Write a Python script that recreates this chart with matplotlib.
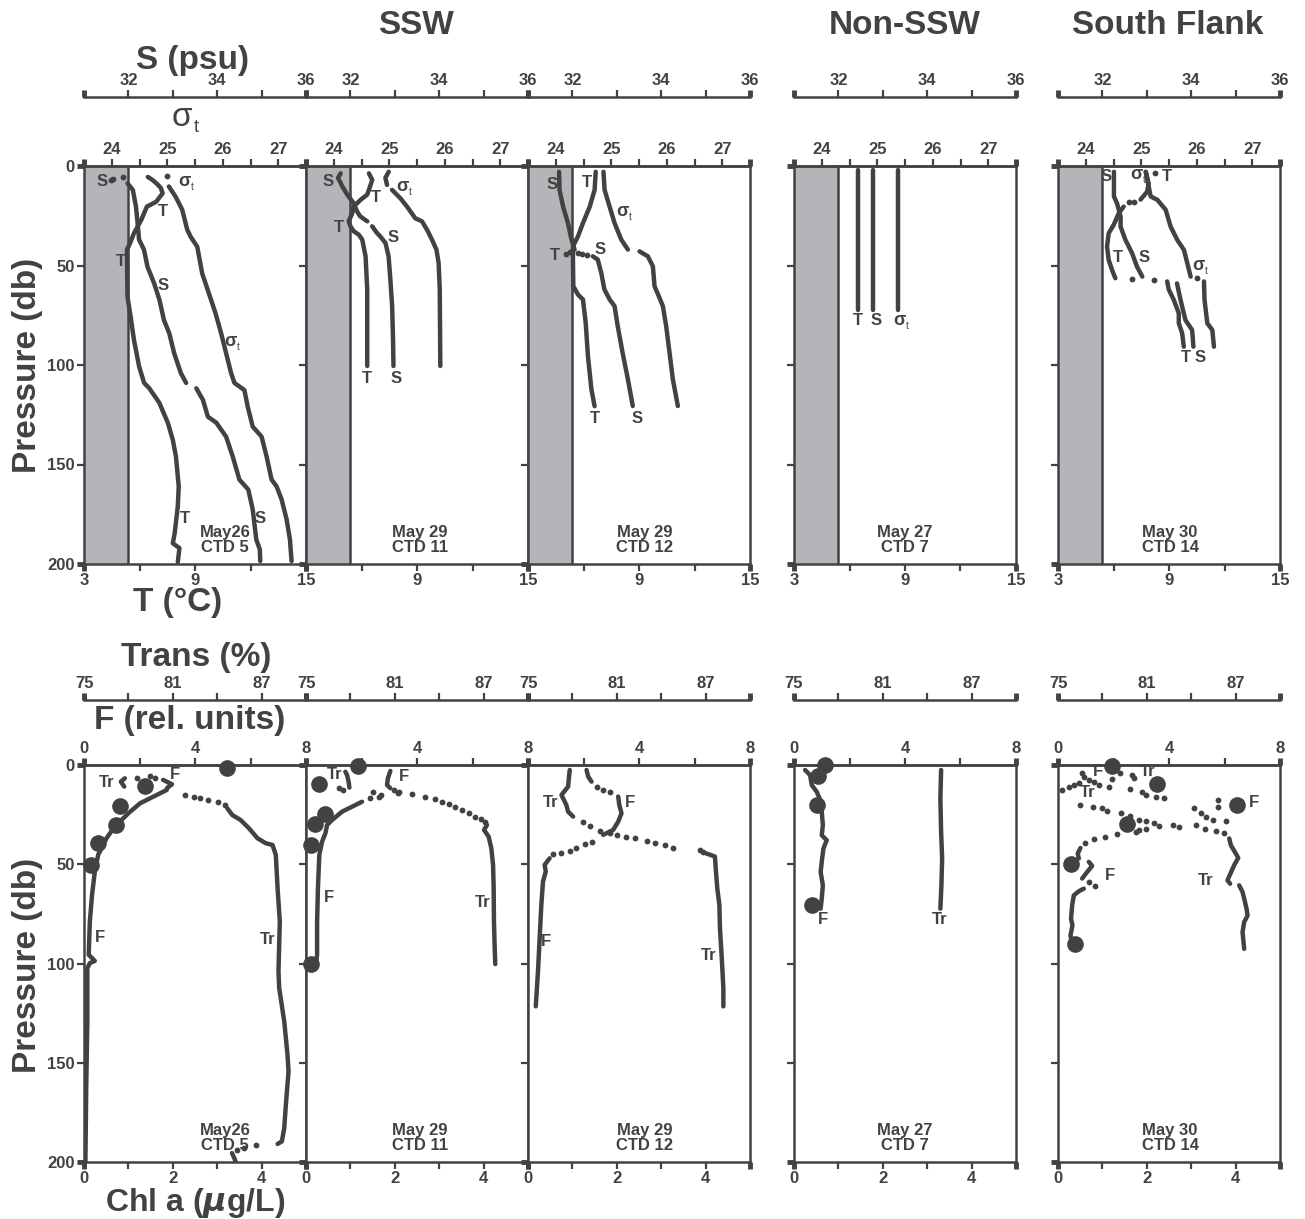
"""
CTD profiles: T / S / sigma-t (top row) and F / Trans / Chl a (bottom row)
for SSW, Non-SSW and South Flank stations.
"""

import numpy as np
import matplotlib.pyplot as plt
from matplotlib import transforms

plt.rcParams['font.family'] = ['Liberation Sans', 'DejaVu Sans']
plt.rcParams['font.weight'] = 'bold'

INK = '#424242'
GRAY = '#b4b5b8'

# ---------------------------------------------------------------- data
CASTS = ['May26\nCTD 5', 'May 29\nCTD 11', 'May 29\nCTD 12', 'May 27\nCTD 7', 'May 30\nCTD 14']
GROUPS = ['SSW', 'Non-SSW', 'South Flank']
SHADE_S = 32.0  # salinity below which the column is shaded

# --- CTD 5 (May 26)
ctd5_T_p = [5.5, 7, 9, 11, 13.7, 18, 20.4, 27, 33.8, 39.7, 42, 65.7, 75.7, 87.4, 100.8, 109, 111.7, 119, 129,
            137.6, 146, 161, 171, 184.6, 189.6, 192, 199]
ctd5_T = [6.45, 6.7, 6.95, 7.15, 7.25, 6.9, 6.4, 6.1, 5.7, 5.45, 5.32, 5.35, 5.52, 5.7, 5.98, 6.25, 6.53, 7.07,
          7.53, 7.8, 7.97, 8.12, 8.07, 7.9, 7.8, 8.16, 8.07]
ctd5_S_p = [8.7, 12, 20.4, 27, 37, 42, 50.6, 59, 67.3, 77.4, 84, 94, 104, 109, None, 111.7, 117.6, 126, 129, 136,
            146, 157.6, 162.6, 172.6, 187.7, 192.7, 198.5]
ctd5_S = [31.98, 32.1, 32.17, 32.2, 32.24, 32.35, 32.43, 32.58, 32.7, 32.8, 32.92, 33.03, 33.18, 33.3, None, 33.53,
          33.68, 33.79, 33.98, 34.2, 34.35, 34.5, 34.7, 34.8, 34.88, 34.96, 34.97]
ctd5_S_dot_p = [7.0, 6.5, 5.4]
ctd5_S_dot = [31.6, 31.66, 31.87]
ctd5_sig_p = [10.3, 15.4, 22, 32, 35.5, 40.5, 54, 64, 74, 84, 94, 104, 109, 112.6, 121, 131, 136, 146, 157.6,
              161, 167.5, 177.5, 187.6, 198.5]
ctd5_sig = [25.03, 25.15, 25.27, 25.36, 25.42, 25.54, 25.63, 25.75, 25.87, 25.97, 26.06, 26.15, 26.21, 26.39,
            26.45, 26.54, 26.7, 26.79, 26.88, 26.97, 27.06, 27.15, 27.21, 27.24]
ctd5_sig_dot_p = [4.8]
ctd5_sig_dot = [25.0]

# --- CTD 11 (May 29)
ctd11_T_p = [3.7, 7, 9.5, 14.4, 17, 20.4, 23.7, 27.8, 30.3, 32.8, 34.5, 37, 45.4, 62, 100.5]
ctd11_T = [6.4, 6.58, 6.49, 6.31, 5.95, 5.58, 5.5, 5.31, 5.4, 5.58, 5.85, 6.04, 6.22, 6.31, 6.31]
ctd11_S_p = [3.7, 6, 8.5, 10, 14.4, 18.6, 22.8, 25.3, 27.8, None, 30.3, 33.7, 35.3, 38.7, 45.4, 57, 70.4, 87.1, 100.5]
ctd11_S = [31.78, 31.72, 31.78, 31.81, 31.93, 32.07, 32.15, 32.22, 32.38, None, 32.49, 32.6, 32.67, 32.79, 32.86,
           32.9, 32.94, 32.96, 32.97]
ctd11_sig_p = [2.9, 6, 9.5, None, 12, 16.2, 20.4, 26.3, 27.8, 32, 37, 42, 48.8, 62, 100.5]
ctd11_sig = [24.99, 24.93, 24.96, None, 25.05, 25.2, 25.32, 25.47, 25.59, 25.68, 25.77, 25.85, 25.89, 25.91, 25.92]

# --- CTD 12 (May 29)
ctd12_T_p = [2.9, 12, 20.4, 28.7, 35.4, 40.4, 47, 60.4, 64.6, 67.1, 78.9, 95.6, 112.4, 120.7]
ctd12_T = [6.66, 6.6, 6.34, 5.97, 5.7, 5.43, 5.43, 5.45, 5.7, 5.97, 6.12, 6.24, 6.43, 6.6]
ctd12_T_dot_p = [43, 44]
ctd12_T_dot = [5.25, 5.05]
ctd12_S_p = [2.9, 12, 20.4, 28.7, 37, 42, None, 45.4, 47, 53.7, 62, 67.1, 70.4, 80.4, 93.8, 107.2, 120.6]
ctd12_S = [31.7, 31.71, 31.79, 31.9, 31.98, 32.05, None, 32.46, 32.57, 32.65, 32.72, 32.84, 32.95, 33.02, 33.13,
           33.25, 33.36]
ctd12_S_dot_p = [43.7, 44.3, 44.9]
ctd12_S_dot = [32.12, 32.22, 32.33]
ctd12_sig_p = [2.9, 12, 20.4, 28.7, 37, 42, None, 42.9, 45.4, 50.4, 60.4, 66.3, 70.4, 80.5, 93.8, 107.2, 120.6]
ctd12_sig = [24.86, 24.88, 24.97, 25.06, 25.18, 25.3, None, 25.51, 25.66, 25.75, 25.78, 25.87, 25.93, 25.99, 26.05,
             26.11, 26.2]

# --- CTD 7 (May 27)
ctd7_p = [2, 20, 40, 60, 72.5]
ctd7_T = [6.47, 6.47, 6.47, 6.47, 6.47]
ctd7_S = [32.79, 32.79, 32.79, 32.79, 32.79]
ctd7_sig = [25.37, 25.37, 25.37, 25.37, 25.37]

# --- CTD 14 (May 30)
ctd14_T_p = [3.0, 8.8, 12.9, 16.9, None, 20.4, 23.8, 29.6, 33.8, 40.5, 47.2, 52.2, 56.4, None, 58, 62.1, 67.3,
             74, 79, 84, 90.8]
ctd14_T = [7.75, 7.9, 7.82, 7.46, None, 6.55, 6.28, 6.01, 5.74, 5.65, 5.74, 5.92, 6.1, None, 8.9, 8.99, 9.26,
           9.53, 9.53, 9.71, 9.8]
ctd14_T_dot_p = [3.5, 17.9, 17.9, 56.7]
ctd14_T_dot = [8.27, 7.09, 6.82, 7.0]
ctd14_S_p = [2.9, 15.3, 18.8, 25.5, 30.5, 37.2, 43.9, 50.6, 55.6, None, 59, 67.3, 77.4, 82.4, 90.8]
ctd14_S = [32.26, 32.26, 32.33, 32.41, 32.41, 32.52, 32.67, 32.78, 32.9, None, 33.68, 33.76, 33.87, 34.02, 34.05]
ctd14_S_dot_p = [57.3]
ctd14_S_dot = [33.16]
ctd14_sig_p = [2.9, 15.3, 17, 22, 30.5, 37.2, 42.2, 48.9, 55.6, None, 58, 67.3, 79, 82.4, 90.8]
ctd14_sig = [25.08, 25.17, 25.29, 25.44, 25.53, 25.65, 25.77, 25.83, 25.89, None, 26.13, 26.14, 26.19, 26.28, 26.31]
ctd14_sig_dot_p = [56.5]
ctd14_sig_dot = [26.0]

# --- bottom row: Chl a bottles, fluorescence F and transmission Tr
ctd5_chl_p = [1.3, 10.4, 20.5, 30.2, 39.4, 50.3]
ctd5_chl = [3.22, 1.37, 0.82, 0.71, 0.32, 0.15]
ctd5_F_p = [7.5, 9.7, 11.5, 12.6, 15.1, 19.3, 24.3, 31.0, 36.9, 45.3, 53.7, 65.4, 78.9, 95.6, 98.7, 99.8, 102.3,
            129.2, 162.8, 200]
ctd5_F = [2.85, 3.17, 3.0, 2.98, 2.62, 2.02, 1.6, 1.11, 0.81, 0.51, 0.39, 0.29, 0.21, 0.17, 0.39, 0.21, 0.12,
          0.12, 0.08, 0.05]
ctd5_F_dot_p = [6.4, 5.4, 6.7]
ctd5_F_dot = [1.9, 2.38, 2.56]
ctd5_Tr_p = [6.7, 8.4, 10.9, None, 21.8, 25.2, 27.7, 31.9, 36.9, 39.4, 40.3, 45.3, 62.1, 78.9, 104, 112.4, 129.2,
             146, 154.4, 171.1, 182.9, 189.6, 190.9, None, 195.5, 198.8, 200]
ctd5_Tr = [77.76, 77.49, 77.72, None, 84.68, 85.02, 85.58, 86.15, 86.72, 87.28, 87.74, 87.96, 88.08, 88.23, 88.14,
           88.19, 88.53, 88.75, 88.82, 88.64, 88.53, 88.37, 88.08, None, 85.0, 85.2, 85.24]
ctd5_Tr_dot_p = [15.1, 15.9, 16.8, 17.6, 18.8, 20.1, 191.6, 193, 193.8]
ctd5_Tr_dot = [81.84, 82.4, 82.86, 83.38, 84.06, 84.56, 86.6, 85.81, 85.36]

ctd11_chl_p = [0.3, 9.7, 24.8, 29.9, 40.3, 100.3]
ctd11_chl = [1.17, 0.30, 0.42, 0.20, 0.12, 0.12]
ctd11_F_p = [3.0, 6.7, 10.1, 11.7, None, 18.5, 21, 23.5, 27.7, 30.2, 34.4, 38.6, 45.3, 62.1, 78.9, 95.6, 100.3]
ctd11_F = [3.04, 2.95, 2.92, 3.04, None, 2.02, 1.66, 1.3, 0.94, 0.76, 0.7, 0.58, 0.48, 0.43, 0.40, 0.40, 0.36]
ctd11_F_dot_p = [12.6, 14.3, 13.5, 14.9, 15.9, 16.8]
ctd11_F_dot = [3.16, 3.31, 2.4, 2.7, 2.62, 2.32]
ctd11_Tr_p = [3.4, 5, 8.4, 11.4, None, 30.2, 32.7, 36.1, 41.9, 50.3, 62.1, 78.9, 92.3, 100.3]
ctd11_Tr = [77.66, 77.77, 77.88, 77.93, None, 87.23, 87.03, 87.34, 87.52, 87.64, 87.68, 87.7, 87.75, 87.79]
ctd11_Tr_dot_p = [11.7, 12.8, 13.8, 14.8, 15.9, 17.1, 18.5, 19.8, 21.3, 22.7, 24.3, 26, 27.2, 28.5]
ctd11_Tr_dot = [77.25, 77.48, 81.26, 82.16, 83.06, 83.74, 84.19, 84.64, 85.09, 85.54, 85.99, 86.44, 86.85, 87.12]

ctd12_F_p = [2.5, 5.9, 8.4, None, 15.9, 20.1, 24.3, 28.5, 32.7, 35.2, None, 47, 50.3, 53.7, 58.7, 70.5, 87.2,
             104, 121.6]
ctd12_F = [2.11, 2.17, 2.29, None, 3.25, 3.29, 3.37, 3.25, 3.07, 2.71, None, 0.78, 0.6, 0.64, 0.54, 0.48, 0.42,
           0.36, 0.28]
ctd12_F_dot_p = [10.9, 12.6, 13.4, 38.6, 39.9, 41.6, 43.3, 44.5, 45]
ctd12_F_dot = [2.47, 2.71, 2.95, 2.29, 2.05, 1.74, 1.5, 1.2, 0.9]
ctd12_Tr_p = [2.5, 5.9, 10.9, 15.1, 20.1, 23.5, 26, None, 44.5, 46.1, 53.7, 62.1, 70.5, 82.2, 95.6, 112.4, 121.6]
ctd12_Tr = [77.82, 77.77, 77.71, 77.26, 77.59, 77.71, 78.05, None, 87.02, 87.63, 87.7, 87.79, 87.93, 87.97, 88.08,
            88.2, 88.2]
ctd12_Tr_dot_p = [28.5, 30.5, 33.2, 34.4, 35.2, 36.1, 36.9, 38.3, 39.4, 40.3, 41.9, 42.8, 44.0]
ctd12_Tr_dot = [78.72, 79.17, 79.85, 80.53, 80.98, 81.65, 82.22, 83.01, 83.57, 84.25, 84.81, 86.62, 86.84]

ctd7_chl_p = [0, 5.4, 20.2, 70.4]
ctd7_chl = [0.70, 0.53, 0.51, 0.40]
ctd7_F_p = [2.5, 5.1, 10.1, 13.5, 16.8, 23.6, 30.3, 35.4, 37.9, 42.1, 48.8, 53.9, 60.6, 67.3, 72.4]
ctd7_F = [0.40, 0.58, 0.64, 0.82, 0.92, 1.0, 1.04, 1.0, 1.18, 1.06, 1.0, 0.96, 1.04, 1.0, 0.96]
ctd7_Tr_p = [2.5, 16.8, 33.7, 47.1, 60.6, 72.4]
ctd7_Tr = [84.94, 84.89, 84.94, 85.01, 84.96, 84.89]

ctd14_chl_p = [0.3, 9.8, 20.2, 29.5, 50, 90.1]
ctd14_chl = [1.22, 2.22, 4.03, 1.56, 0.29, 0.39]
ctd14_F_p = [41.8, 44.6, 47.1, None, 48.8, 50.8, 53.9, 57.2, None, 62.3, 63.6, 65.7, 70.7, 77.4, 80.8, 85.9, 90.1]
ctd14_F = [0.81, 0.71, 0.75, None, 1.11, 1.23, 1.05, 0.87, None, 0.93, 0.75, 0.57, 0.51, 0.47, 0.52, 0.45, 0.51]
ctd14_F_dot_p = [4.2, 5.9, 7.6, 8.8, 10.1, 10.9, 12.1, 13.5, 15.2, 16.0, 16.8, 21.9, 24.4, 26.1, 27.8, 17.7,
                 21.0, 28.1, 32.0, 32.8, 33.7, 35.0, 36.2, 37.4, 39.1, 58.9, 60.9]
ctd14_F_dot = [0.87, 0.95, 1.11, 1.29, 1.47, 1.83, 2.61, 3.04, 3.16, 3.52, 3.82, 4.90, 5.14, 5.33, 5.57, 5.75,
               5.75, 6.05, 3.16, 2.92, 2.80, 2.13, 1.71, 1.29, 0.99, 1.11, 1.35]
ctd14_Tr_p = [37.0, 40.4, 43.8, 46.8, 50.5, 54.2, 58.1, 59.8, None, 60.6, 64.0, 67.3, 72.4, 75.8, 79.1, 84.2, 92.6]
ctd14_Tr = [86.57, 86.68, 86.95, 87.18, 86.9, 86.68, 86.45, 86.63, None, 87.24, 87.47, 87.58, 87.74, 87.81, 87.58,
            87.47, 87.58]
ctd14_Tr_dot_p = [4.2, 5.1, 6.7, 7.1, 9.3, 10.1, 10.9, 12.6, 19.9, 21.0, 21.9, 23.2, 24.4, 25.6, 27.8, 28.3, 29.0,
                  30.6, 30.0, 31.1, 30.0, 32.0, 33.3, 34.5]
ctd14_Tr_dot = [79.22, 80.01, 80.13, 78.66, 76.40, 76.06, 75.72, 75.27, 76.51, 77.37, 77.98, 78.32, 79.27, 79.86,
                80.47, 80.92, 81.48, 81.82, 82.79, 83.18, 84.31, 84.92, 85.66, 86.23]

# ---------------------------------------------------------------- layout
W, H = 1305, 1219
LEFTS = [84, 306, 528, 794, 1058]
PW = 222
TOP_ROW = (166, 564)
BOT_ROW = (765, 1162)

fig = plt.figure(figsize=(W / 100, H / 100), dpi=100)


def fx(x):
    return x / W


def fy(y):
    return 1 - y / H


def new_axes(left, row):
    top, bot = row
    return fig.add_axes([fx(left), fy(bot), PW / W, (bot - top) / H])


def set_ticks(ax, axis, lo, hi, inner, labels):
    """Ends get a heavy tick, interior ticks are thin; labels only where given."""
    a = ax.xaxis if axis == 'x' else ax.yaxis
    if axis == 'x':
        ax.set_xlim(lo, hi)
    else:
        ax.set_ylim(hi, lo)
    a.set_ticks([lo, hi])
    a.set_ticklabels([labels.get(lo, ''), labels.get(hi, '')])
    a.set_ticks(inner, minor=True)
    a.set_ticklabels([labels.get(t, '') for t in inner], minor=True)
    ax.tick_params(axis=axis, which='major', length=5, width=3.5, color=INK, direction='out', pad=1.5)
    ax.tick_params(axis=axis, which='minor', length=5, width=1.6, color=INK, direction='out', pad=1.5)
    ax.tick_params(axis=axis, which='both', labelsize=12, labelcolor=INK)


def style_spines(ax, keep):
    for name, sp in ax.spines.items():
        sp.set_visible(name in keep)
        sp.set_color(INK)
        sp.set_linewidth(1.8)


def prof(ax, v, p, dv=None, dp=None):
    ax.plot(np.array(v, dtype=float), np.array(p, dtype=float), color=INK, lw=3.2,
            solid_capstyle='round', solid_joinstyle='round', zorder=3)
    if dv is not None:
        ax.plot(dv, dp, 'o', ms=4.2, mew=0, color=INK, zorder=3)


def sigma_t(ax, x, y, size, transform, weight='bold'):
    ax.text(x, y, 'σ', fontsize=size, fontweight=weight, ha='center', va='center', color=INK,
            transform=transform, zorder=5)
    tr = transforms.offset_copy(transform, fig=fig, x=size * 0.35, y=-size * 0.3, units='points')
    ax.text(x, y, 't', transform=tr, fontsize=size * 0.55, fontweight='normal', ha='left', va='center',
            color=INK, zorder=5)


def curve_label(ax, txt, x, y):
    if txt == 'σ':
        sigma_t(ax, x, y, 13, ax.transData)
    else:
        ax.text(x, y, txt, fontsize=12, ha='center', va='center', color=INK, zorder=5)


P_INNER = [50, 100, 150]
P_LABELS = {0: '0', 50: '50', 100: '100', 150: '150', 200: '200'}

# ---------------------------------------------------------------- top row
top_data = [
    (ctd5_T, ctd5_T_p, None, None, ctd5_S, ctd5_S_p, ctd5_S_dot, ctd5_S_dot_p,
     ctd5_sig, ctd5_sig_p, ctd5_sig_dot, ctd5_sig_dot_p),
    (ctd11_T, ctd11_T_p, None, None, ctd11_S, ctd11_S_p, None, None,
     ctd11_sig, ctd11_sig_p, None, None),
    (ctd12_T, ctd12_T_p, ctd12_T_dot, ctd12_T_dot_p, ctd12_S, ctd12_S_p, ctd12_S_dot, ctd12_S_dot_p,
     ctd12_sig, ctd12_sig_p, None, None),
    (ctd7_T, ctd7_p, None, None, ctd7_S, ctd7_p, None, None, ctd7_sig, ctd7_p, None, None),
    (ctd14_T, ctd14_T_p, ctd14_T_dot, ctd14_T_dot_p, ctd14_S, ctd14_S_p, ctd14_S_dot, ctd14_S_dot_p,
     ctd14_sig, ctd14_sig_p, ctd14_sig_dot, ctd14_sig_dot_p),
]
top_labels = [
    [('S', 4.0, 8), ('σ', 8.45, 8), ('T', 7.25, 23), ('T', 4.98, 48), ('S', 7.3, 60), ('σ', 10.9, 88),
     ('T', 8.45, 177), ('S', 12.5, 177)],
    [('S', 4.2, 8), ('T', 6.8, 16), ('σ', 8.2, 10.5), ('T', 4.76, 31), ('S', 7.7, 36), ('T', 6.3, 107),
     ('S', 7.85, 107)],
    [('S', 4.3, 9.5), ('T', 6.2, 8.5), ('σ', 8.1, 23), ('T', 4.45, 45), ('S', 6.9, 42), ('T', 6.6, 127),
     ('S', 8.9, 127)],
    [('T', 6.45, 77.5), ('S', 7.42, 77.5), ('σ', 8.72, 77.5)],
    [('S', 5.62, 5.5), ('σ', 7.25, 4.5), ('T', 8.87, 5.5), ('T', 6.22, 46), ('S', 7.68, 46), ('σ', 10.6, 50),
     ('T', 9.9, 96), ('S', 10.7, 96)],
]
date_x = [0.635, 0.514, 0.527, 0.5, 0.505]

T_LIM, S_LIM, SIG_LIM = (3, 15), (31, 36), (23.5, 27.5)
t_shade = T_LIM[0] + (SHADE_S - S_LIM[0]) / (S_LIM[1] - S_LIM[0]) * (T_LIM[1] - T_LIM[0])

for i, left in enumerate(LEFTS):
    (T, Tp, Td, Tdp, S, Sp, Sd, Sdp, G, Gp, Gd, Gdp) = top_data[i]
    ax = new_axes(left, TOP_ROW)
    style_spines(ax, ['left', 'right', 'bottom', 'top'])
    set_ticks(ax, 'x', 3, 15, [6, 9, 12],
              {3: '3', 9: '9', 15: '15'} if i not in (1, 2) else {9: '9', 15: '15'})
    set_ticks(ax, 'y', 0, 200, P_INNER, P_LABELS if i == 0 else {})
    ax.axvspan(T_LIM[0], t_shade, color=GRAY, lw=0, zorder=0)
    ax.axvline(t_shade, color=INK, lw=1.8, zorder=1)
    prof(ax, T, Tp, Td, Tdp)

    ax_g = ax.twiny()
    style_spines(ax_g, ['top'])
    set_ticks(ax_g, 'x', 23.5, 27.5, [24, 24.5, 25, 25.5, 26, 26.5, 27],
              {24: '24', 25: '25', 26: '26', 27: '27'})
    prof(ax_g, G, Gp, Gd, Gdp)

    ax_s = ax.twiny()
    style_spines(ax_s, ['top'])
    ax_s.spines['top'].set_position(('axes', 1 + (TOP_ROW[0] - 97) / (TOP_ROW[1] - TOP_ROW[0])))
    set_ticks(ax_s, 'x', 31, 36, [32, 33, 34, 35], {32: '32', 34: '34', 36: '36'})
    prof(ax_s, S, Sp, Sd, Sdp)

    for txt, x, y in top_labels[i]:
        curve_label(ax, txt, x, y)
    ax.text(date_x[i], 0.06, CASTS[i], transform=ax.transAxes, ha='center', va='center',
            fontsize=12, color=INK, linespacing=1.0, zorder=5)

# ---------------------------------------------------------------- bottom row
bot_data = [
    (ctd5_chl, ctd5_chl_p, ctd5_F, ctd5_F_p, ctd5_F_dot, ctd5_F_dot_p, ctd5_Tr, ctd5_Tr_p, ctd5_Tr_dot, ctd5_Tr_dot_p),
    (ctd11_chl, ctd11_chl_p, ctd11_F, ctd11_F_p, ctd11_F_dot, ctd11_F_dot_p, ctd11_Tr, ctd11_Tr_p, ctd11_Tr_dot,
     ctd11_Tr_dot_p),
    (None, None, ctd12_F, ctd12_F_p, ctd12_F_dot, ctd12_F_dot_p, ctd12_Tr, ctd12_Tr_p, ctd12_Tr_dot, ctd12_Tr_dot_p),
    (ctd7_chl, ctd7_chl_p, ctd7_F, ctd7_F_p, None, None, ctd7_Tr, ctd7_Tr_p, None, None),
    (ctd14_chl, ctd14_chl_p, ctd14_F, ctd14_F_p, ctd14_F_dot, ctd14_F_dot_p, ctd14_Tr, ctd14_Tr_p, ctd14_Tr_dot,
     ctd14_Tr_dot_p),
]
bot_labels = [
    [('Tr', 0.51, 9), ('F', 2.04, 5), ('F', 0.35, 87), ('Tr', 4.13, 88)],
    [('Tr', 0.65, 5), ('F', 2.2, 6), ('F', 0.51, 67), ('Tr', 3.98, 69.5)],
    [('Tr', 0.51, 19), ('F', 2.29, 19), ('F', 0.4, 89), ('Tr', 4.07, 96)],
    [('F', 0.65, 78), ('Tr', 3.27, 78)],
    [('F', 0.91, 3.5), ('Tr', 2.01, 3.5), ('Tr', 0.66, 14), ('F', 4.42, 19), ('F', 1.18, 55.5), ('Tr', 3.32, 58)],
]

for i, left in enumerate(LEFTS):
    (C, Cp, F, Fp, Fd, Fdp, Tr, Trp, Trd, Trdp) = bot_data[i]
    ax = new_axes(left, BOT_ROW)
    style_spines(ax, ['left', 'right', 'bottom', 'top'])
    set_ticks(ax, 'x', 0, 5, [1, 2, 3, 4], {0: '0', 2: '2', 4: '4'})
    set_ticks(ax, 'y', 0, 200, P_INNER, P_LABELS if i == 0 else {})

    ax_f = ax.twiny()
    style_spines(ax_f, ['top'])
    set_ticks(ax_f, 'x', 0, 8, [2, 4, 6],
              {0: '0', 4: '4', 8: '8'} if i not in (1, 2) else {4: '4', 8: '8'})
    prof(ax_f, F, Fp, Fd, Fdp)

    ax_t = ax.twiny()
    style_spines(ax_t, ['top'])
    ax_t.spines['top'].set_position(('axes', 1 + (BOT_ROW[0] - 700) / (BOT_ROW[1] - BOT_ROW[0])))
    set_ticks(ax_t, 'x', 75, 90, [78, 81, 84, 87], {75: '75', 81: '81', 87: '87'})
    prof(ax_t, Tr, Trp, Trd, Trdp)

    if C is not None:
        ax_t.plot(np.array(C) / 5 * 15 + 75, Cp, 'o', ms=12, mew=0, color=INK, clip_on=False, zorder=4)

    for txt, x, y in bot_labels[i]:
        ax_t.text(x / 5 * 15 + 75, y, txt, fontsize=12, ha='center', va='center', color=INK, zorder=5)
    ax_t.text(date_x[i], 0.06, CASTS[i], transform=ax.transAxes, ha='center', va='center',
              fontsize=12, color=INK, linespacing=1.0, zorder=5)

# ---------------------------------------------------------------- titles
title_kw = dict(ha='center', va='center', color=INK, fontsize=24)
fig.text(fx(416), fy(25), GROUPS[0], **title_kw)
fig.text(fx(905), fy(25), GROUPS[1], **title_kw)
fig.text(fx(1168), fy(25), GROUPS[2], **title_kw)

fig.text(fx(193), fy(60), 'S (psu)', **title_kw)
sigma_t(fig, fx(182), fy(118), 24, fig.transFigure, weight='normal')
fig.text(fx(178), fy(602), 'T (°C)', **title_kw)
fig.text(fx(196), fy(658), 'Trans (%)', **title_kw)
fig.text(fx(190), fy(720), 'F (rel. units)', **title_kw)
fig.text(fx(195), fy(1203), r'Chl a ($\mu$g/L)', ha='center', va='center', color=INK, fontsize=23)
fig.text(fx(28), fy(365), 'Pressure (db)', rotation=90, **title_kw)
fig.text(fx(28), fy(965), 'Pressure (db)', rotation=90, **title_kw)

fig.savefig('out.png', dpi=100, facecolor='white')
